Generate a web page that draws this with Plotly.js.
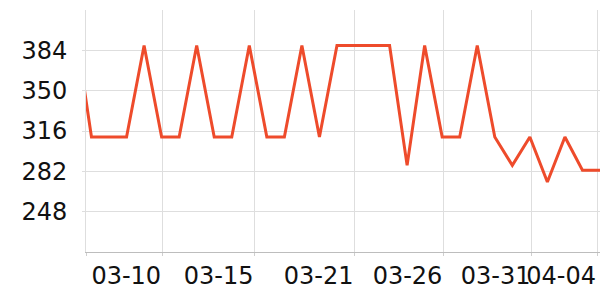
<!DOCTYPE html>
<html>
<head>
<meta charset="utf-8">
<script src="https://cdn.plot.ly/plotly-3.0.1.min.js"></script>
<style>html,body{margin:0;padding:0;background:#fff;}#chart{width:600px;height:300px;}</style>
</head>
<body>
<div id="chart"></div>
<script>
const dates = [
  '2024-03-05','2024-03-06','2024-03-07','2024-03-08','2024-03-09','2024-03-10',
  '2024-03-11','2024-03-12','2024-03-13','2024-03-14','2024-03-15','2024-03-16',
  '2024-03-17','2024-03-18','2024-03-19','2024-03-20','2024-03-21','2024-03-22',
  '2024-03-23','2024-03-24','2024-03-25','2024-03-26','2024-03-27','2024-03-28',
  '2024-03-29','2024-03-30','2024-03-31','2024-04-01','2024-04-02','2024-04-03',
  '2024-04-04'
];
const values = [
  410, 311, 311, 311, 388, 311,
  311, 388, 311, 311, 388, 311,
  311, 388, 311, 388, 388, 388,
  388, 287, 388, 311, 311, 388,
  311, 287, 311, 273, 311, 283,
  283
];
const xTickVals = ['2024-03-05 16:30','2024-03-10 00:43','2024-03-15 07:12','2024-03-21 00:00','2024-03-26 01:40','2024-03-31 02:10','2024-04-03 20:00'];
const xTickText = ['','03-10','03-15','03-21','03-26','03-31','04-04'];
const yTickVals = [248, 282, 316, 350, 384];
const xRange = ['2024-03-05 16:30','2024-04-04 00:00'];
const yRange = [214, 418];

const trace = {
  x: dates, y: values, type: 'scatter', mode: 'lines',
  line: {color: '#ee4b2b', width: 3},
  hoverinfo: 'skip'
};
const layout = {
  width: 600, height: 300,
  margin: {l: 85.5, r: 0, t: 10, b: 48, pad: 0},
  paper_bgcolor: '#fff', plot_bgcolor: '#fff',
  font: {family: 'DejaVu Sans, sans-serif', size: 24, color: '#111'},
  showlegend: false,
  xaxis: {
    type: 'date', range: xRange,
    tickmode: 'array', tickvals: xTickVals, ticktext: xTickText,
    ticklabelposition: 'outside left', ticklabeloverflow: 'allow',
    tickangle: 0,
    showgrid: true, gridcolor: '#dedede', gridwidth: 1,
    showline: true, linecolor: '#bdbdbd', linewidth: 1,
    ticks: 'outside', ticklen: 3, tickcolor: '#cfcfcf',
    zeroline: false, ticklabelstandoff: 2
  },
  yaxis: {
    range: yRange, tickmode: 'array', tickvals: yTickVals,
    showgrid: true, gridcolor: '#dedede', gridwidth: 1,
    showline: true, linecolor: '#dedede', linewidth: 1,
    ticks: 'outside', ticklen: 3, tickcolor: '#dedede',
    zeroline: false, ticklabelstandoff: 10
  }
};
Plotly.newPlot('chart', [trace], layout, {staticPlot: true, displayModeBar: false});
</script>
</body>
</html>
